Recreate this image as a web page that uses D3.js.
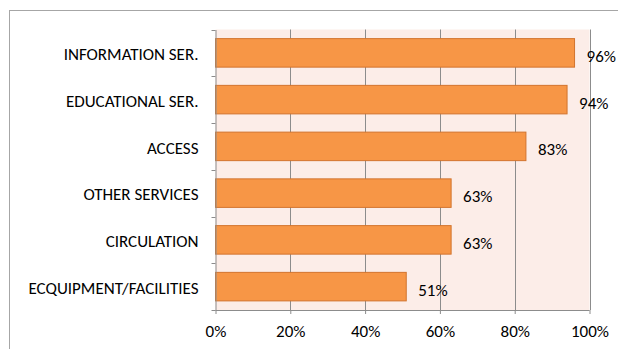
<!DOCTYPE html>
<html>
<head>
<meta charset="utf-8">
<script src="https://cdn.jsdelivr.net/npm/d3@7/dist/d3.min.js"></script>
<style>
  html, body { margin: 0; padding: 0; background: #fff; }
  svg { display: block; font-family: Carlito, Calibri, Lato, sans-serif; }
</style>
</head>
<body>
<svg id="chart" width="618" height="349"></svg>
<script>
// Survey results per service area (share of respondents)
const categories = ["INFORMATION SER.", "EDUCATIONAL SER.", "ACCESS", "OTHER SERVICES", "CIRCULATION", "ECQUIPMENT/FACILITIES"];
const values = [0.96, 0.94, 0.83, 0.63, 0.63, 0.51];
const valueLabels = ["96%", "94%", "83%", "63%", "63%", "51%"];
const xTicks = [0, 0.2, 0.4, 0.6, 0.8, 1.0];

const FONT = "Carlito, Calibri, Lato, sans-serif";
const FS = 17;

const svg = d3.select("#chart");
const plot = { left: 215.5, right: 589.5, top: 29.5, bottom: 310 };

// Chart frame
svg.append("rect")
  .attr("x", 9.5).attr("y", 10.5)
  .attr("width", 700).attr("height", 400)
  .attr("fill", "#fff").attr("stroke", "#a6a6a6").attr("stroke-width", 1);

const x = d3.scaleLinear().domain([0, 1]).range([plot.left, plot.right]);
const y = d3.scaleBand().domain(categories).range([plot.top, plot.bottom]).paddingInner(0.39).paddingOuter(0.195);
const yb = d3.scaleBand().domain(categories).range([plot.top, plot.bottom]);

// Plot area background
svg.append("rect")
  .attr("x", plot.left).attr("y", plot.top)
  .attr("width", plot.right - plot.left).attr("height", plot.bottom - plot.top)
  .attr("fill", "#fcede8");

// Vertical gridlines
svg.append("g").selectAll("line").data(xTicks.slice(1)).join("line")
  .attr("x1", d => Math.round(x(d)) + 0.5).attr("x2", d => Math.round(x(d)) + 0.5)
  .attr("y1", plot.top).attr("y2", plot.bottom)
  .attr("stroke", "#8c8c8c").attr("stroke-width", 1);

// Bars
svg.append("g").selectAll("rect").data(categories).join("rect")
  .attr("x", x(0))
  .attr("y", d => y(d))
  .attr("width", (d, i) => x(values[i]) - x(0))
  .attr("height", y.bandwidth())
  .attr("fill", "#f79646")
  .attr("stroke", "#d2742e").attr("stroke-width", 1);

// Category axis
const yAxis = d3.axisLeft(yb).tickSize(0).tickPadding(17);
const gy = svg.append("g").attr("transform", `translate(${plot.left},0)`).call(yAxis);
gy.select(".domain").attr("stroke", "#8c8c8c");
gy.selectAll("text").attr("font-size", FS).attr("fill", "#000").attr("dy", "0.42em")
  .attr("font-family", FONT);
// Boundary ticks between categories
const bounds = categories.map(c => yb(c)).concat([plot.bottom]);
svg.append("g").selectAll("line").data(bounds).join("line")
  .attr("x1", plot.left - 4).attr("x2", plot.left)
  .attr("y1", d => Math.round(d) + 0.5).attr("y2", d => Math.round(d) + 0.5)
  .attr("stroke", "#8c8c8c");

// Value axis
const xAxis = d3.axisBottom(x).tickValues(xTicks).tickFormat(d3.format(".0%")).tickSize(4).tickPadding(11);
const gx = svg.append("g").attr("transform", `translate(0,${plot.bottom})`).call(xAxis);
gx.select(".domain").attr("stroke", "#8c8c8c").attr("d", `M${plot.left},0.5H${plot.right}`);
gx.selectAll("line").attr("stroke", "#8c8c8c");
gx.selectAll("text").attr("font-size", FS).attr("fill", "#000")
  .attr("font-family", FONT);

// Value labels
svg.append("g").selectAll("text").data(categories).join("text")
  .attr("x", (d, i) => x(values[i]) + 12)
  .attr("y", d => y(d) + y.bandwidth() / 2 + 3)
  .attr("dy", "0.35em")
  .attr("font-size", FS).attr("fill", "#000").attr("font-family", FONT)
  .text((d, i) => valueLabels[i]);
</script>
</body>
</html>
